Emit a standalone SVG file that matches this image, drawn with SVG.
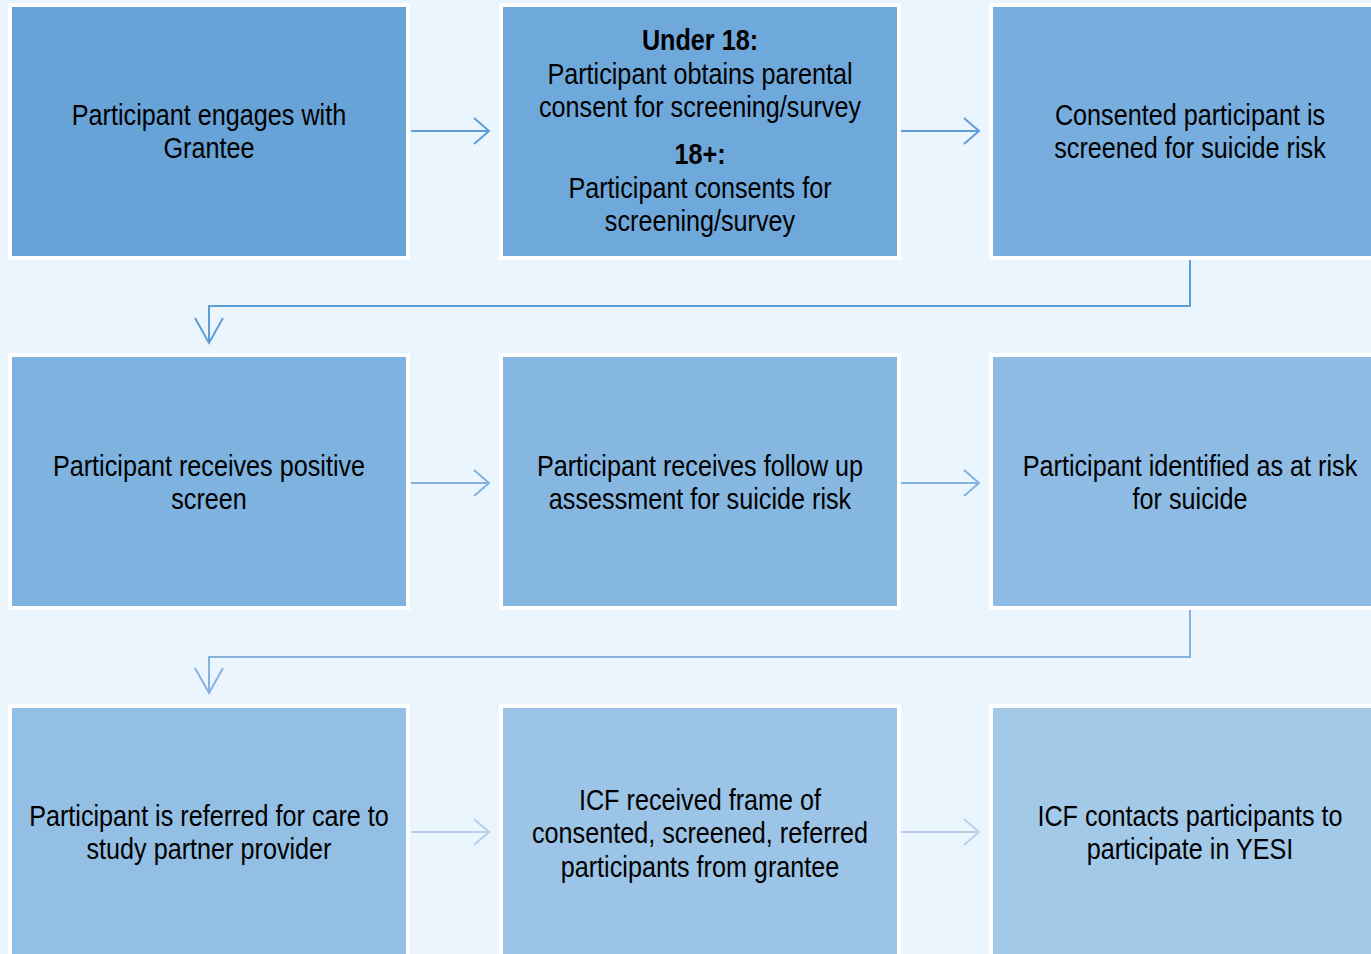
<svg xmlns="http://www.w3.org/2000/svg" width="1371" height="954" viewBox="0 0 1371 954">
<defs>
<style>
.box{stroke:#ffffff;stroke-width:4}
.t{font-family:"Liberation Sans",Arial,sans-serif;font-size:30px;fill:#000;text-anchor:middle}
.b{font-weight:bold}
.c{fill:none;stroke-width:2}
</style>
</defs>
<rect width="1371" height="954" fill="#EAF5FD"/>
<g id="connectors">
<g stroke="#5E9ED6" class="c">
<path d="M411,131 H489 M474,118 L489,131 L474,144"/>
<path d="M901,131 H979 M964,118 L979,131 L964,144"/>
<path d="M1190,260 V306 H209 V343 M195,318 L209,343 L223,318"/>
</g>
<g stroke="#85B3E0" class="c">
<path d="M411,483 H489 M474,470 L489,483 L474,496"/>
<path d="M901,483 H979 M964,470 L979,483 L964,496"/>
<path d="M1190,610 V657 H209 V693 M195,668 L209,693 L223,668"/>
</g>
<g stroke="#B8D0EC" class="c">
<path d="M411,832 H489 M474,819 L489,832 L474,845"/>
<path d="M901,832 H979 M964,819 L979,832 L964,845"/>
</g>
</g>
<g id="n1"><rect class="box" x="10" y="5" width="398" height="253" fill="#67A3D6"/>
<g transform="translate(209 0) scale(0.84 1)"><text class="t" x="0" y="125">Participant engages with</text><text class="t" x="0" y="158">Grantee</text></g></g>
<g id="n2"><rect class="box" x="501" y="5" width="398" height="253" fill="#6FA8DA"/>
<g transform="translate(700 0) scale(0.84 1)">
<text class="t b" x="0" y="50">Under 18:</text>
<text class="t" x="0" y="84">Participant obtains parental</text>
<text class="t" x="0" y="117">consent for screening/survey</text>
<text class="t b" x="0" y="164">18+:</text>
<text class="t" x="0" y="198">Participant consents for</text>
<text class="t" x="0" y="231">screening/survey</text></g></g>
<g id="n3"><rect class="box" x="991" y="5" width="384" height="253" fill="#78AEDD"/>
<g transform="translate(1190 0) scale(0.84 1)"><text class="t" x="0" y="125">Consented participant is</text><text class="t" x="0" y="158">screened for suicide risk</text></g></g>
<g id="n4"><rect class="box" x="10" y="355" width="398" height="253" fill="#7EB2DF"/>
<g transform="translate(209 0) scale(0.84 1)"><text class="t" x="0" y="476">Participant receives positive</text><text class="t" x="0" y="509">screen</text></g></g>
<g id="n5"><rect class="box" x="501" y="355" width="398" height="253" fill="#86B7E1"/>
<g transform="translate(700 0) scale(0.84 1)"><text class="t" x="0" y="476">Participant receives follow up</text><text class="t" x="0" y="509">assessment for suicide risk</text></g></g>
<g id="n6"><rect class="box" x="991" y="355" width="384" height="253" fill="#8DBBE3"/>
<g transform="translate(1190 0) scale(0.84 1)"><text class="t" x="0" y="476">Participant identified as at risk</text><text class="t" x="0" y="509">for suicide</text></g></g>
<g id="n7"><rect class="box" x="10" y="706" width="398" height="253" fill="#93BFE4"/>
<g transform="translate(209 0) scale(0.84 1)"><text class="t" x="0" y="826">Participant is referred for care to</text><text class="t" x="0" y="859">study partner provider</text></g></g>
<g id="n8"><rect class="box" x="501" y="706" width="398" height="253" fill="#9BC4E6"/>
<g transform="translate(700 0) scale(0.84 1)"><text class="t" x="0" y="810">ICF received frame of</text><text class="t" x="0" y="843">consented, screened, referred</text><text class="t" x="0" y="877">participants from grantee</text></g></g>
<g id="n9"><rect class="box" x="991" y="706" width="384" height="253" fill="#A3C9E9"/>
<g transform="translate(1190 0) scale(0.84 1)"><text class="t" x="0" y="826">ICF contacts participants to</text><text class="t" x="0" y="859">participate in YESI</text></g></g>
</svg>
